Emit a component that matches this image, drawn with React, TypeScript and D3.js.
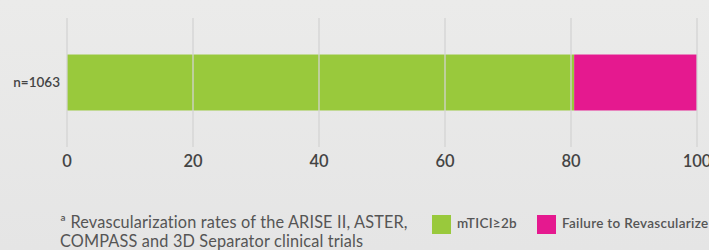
import React, { useMemo } from 'react';
import * as d3 from 'd3';

const categories = ['n=1063'];
const seriesNames = ['mTICI≥2b', 'Failure to Revascularize'];
const seriesColors = ['#99c93c', '#e5198f'];
const revascularized = [80.5];
const failure = [19.5];
const xTicks = [0, 20, 40, 60, 80, 100];
const footnote = [
  'ª Revascularization rates of the ARISE II, ASTER,',
  'COMPASS and 3D Separator clinical trials',
];

const W = 709;
const H = 250;
const font = "Lato, 'Open Sans', sans-serif";

export default function App() {
  const x = useMemo(() => d3.scaleLinear().domain([0, 100]).range([67, 697]), []);
  const y = useMemo(
    () => d3.scaleBand().domain(categories).range([18, 147]).padding(0.395),
    []
  );

  const stacked = useMemo(() => {
    const rows = categories.map((c, i) => ({ cat: c, a: revascularized[i], b: failure[i] }));
    return d3.stack<any>().keys(['a', 'b'])(rows);
  }, []);

  return (
    <svg width={W} height={H} style={{ position: 'absolute', left: 0, top: 0 }}>
      <defs>
        <linearGradient id="bg" x1="0" x2="0" y1="0" y2="1">
          <stop offset="0%" stopColor="#ebebea" />
          <stop offset="100%" stopColor="#e5e5e5" />
        </linearGradient>
      </defs>
      <rect x={0} y={0} width={W} height={H} fill="url(#bg)" />

      {/* bars */}
      {stacked.map((layer, li) =>
        layer.map((d) => (
          <rect
            key={li + d.data.cat}
            x={x(d[0])}
            y={y(d.data.cat)}
            width={x(d[1]) - x(d[0])}
            height={y.bandwidth()}
            fill={seriesColors[li]}
          />
        ))
      )}

      {/* grid */}
      {xTicks.map((t) => (
        <line
          key={t}
          x1={x(t)}
          x2={x(t)}
          y1={18}
          y2={147}
          stroke="#d2d2d2"
          strokeOpacity={0.85}
          strokeWidth={1.5}
        />
      ))}

      {xTicks.map((t) => (
        <text
          key={'l' + t}
          x={x(t)}
          y={167}
          textAnchor="middle"
          fontFamily={font}
          fontSize={16.5}
          fontWeight={600}
          fill="#444"
        >
          {t}
        </text>
      ))}

      {categories.map((c) => (
        <text
          key={c}
          x={60}
          y={(y(c) ?? 0) + y.bandwidth() / 2 + 4.5}
          textAnchor="end"
          fontFamily={font}
          fontSize={13.5}
          fontWeight={600}
          fill="#444"
        >
          {c}
        </text>
      ))}

      {footnote.map((line, i) => (
        <text
          key={i}
          x={60}
          y={228 + i * 18.5}
          fontFamily={font}
          fontSize={16.3}
          letterSpacing={0.15}
          fill="#555"
        >
          {line}
        </text>
      ))}

      {/* legend */}
      {seriesNames.map((s, i) => {
        const lx = i === 0 ? 432 : 537;
        return (
          <g key={s}>
            <rect x={lx} y={215} width={19} height={19} fill={seriesColors[i]} />
            <text
              x={lx + 25}
              y={228}
              fontFamily={font}
              fontSize={13.5}
              fontWeight={600}
              letterSpacing={0.3}
              fill="#555"
            >
              {s}
            </text>
          </g>
        );
      })}
    </svg>
  );
}
